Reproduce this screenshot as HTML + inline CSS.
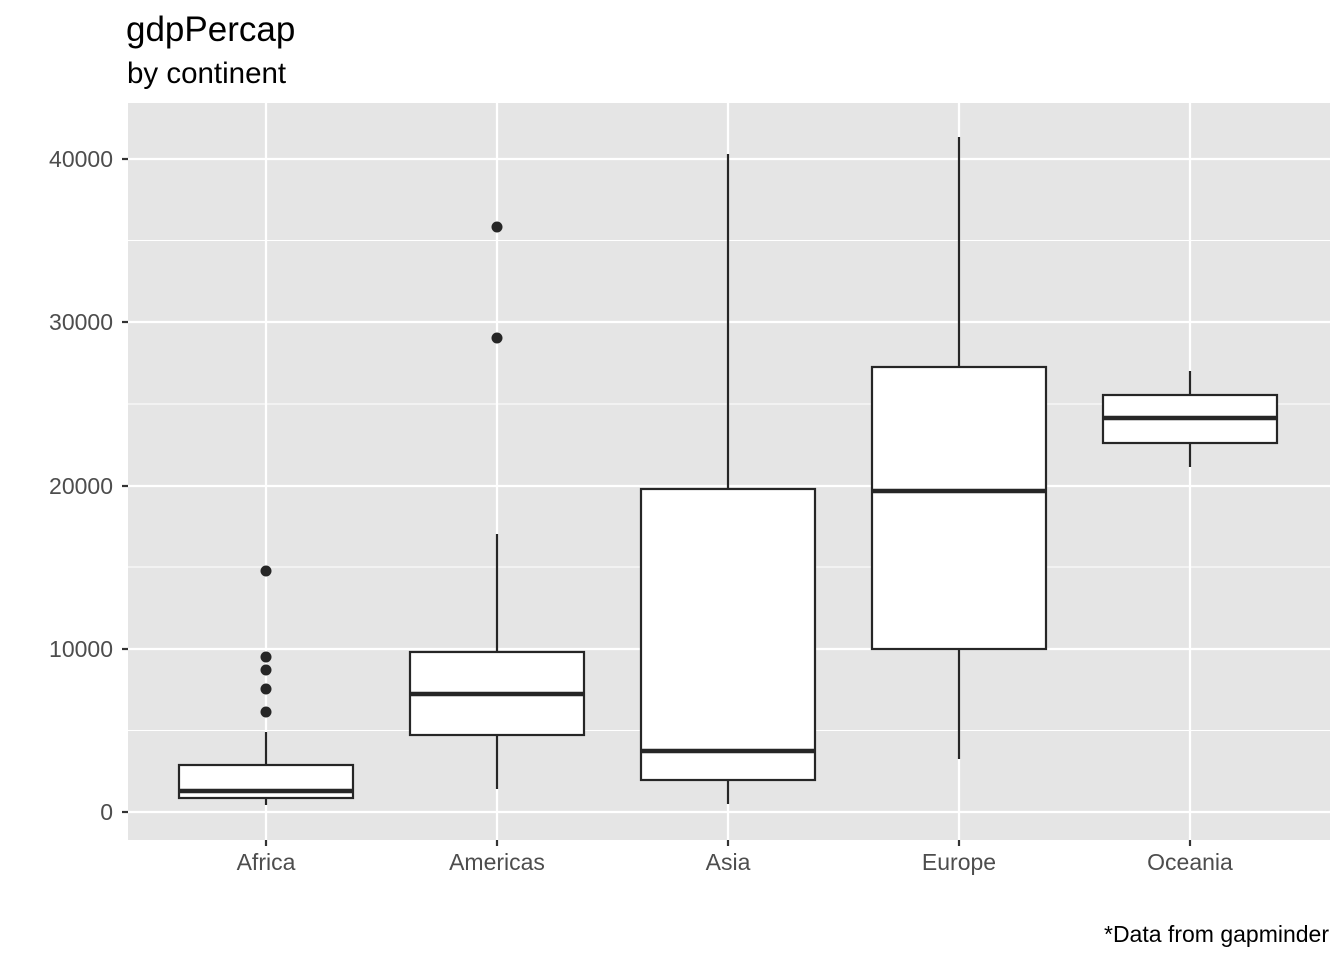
<!DOCTYPE html>
<html><head><meta charset="utf-8"><style>
html,body{margin:0;padding:0;background:#fff;}
svg{display:block;font-family:"Liberation Sans",Arial,sans-serif;}
</style></head><body>
<svg width="1344" height="960" viewBox="0 0 1344 960" xmlns="http://www.w3.org/2000/svg">
<rect x="0" y="0" width="1344" height="960" fill="#fff"/>
<text x="126" y="41" font-size="35" fill="#000">gdpPercap</text>
<text x="127" y="83" font-size="29.5" fill="#000">by continent</text>
<rect x="128" y="103" width="1202" height="737" fill="#e5e5e5"/>
<g stroke="#fff" stroke-width="1.1">
<line x1="128" x2="1330" y1="730.5" y2="730.5"/>
<line x1="128" x2="1330" y1="567" y2="567"/>
<line x1="128" x2="1330" y1="404" y2="404"/>
<line x1="128" x2="1330" y1="240.5" y2="240.5"/>
</g>
<g stroke="#fff" stroke-width="2.2">
<line x1="128" x2="1330" y1="812" y2="812"/>
<line x1="128" x2="1330" y1="649" y2="649"/>
<line x1="128" x2="1330" y1="486" y2="486"/>
<line x1="128" x2="1330" y1="322" y2="322"/>
<line x1="128" x2="1330" y1="159" y2="159"/>
<line x1="266" x2="266" y1="103" y2="840"/>
<line x1="497" x2="497" y1="103" y2="840"/>
<line x1="728" x2="728" y1="103" y2="840"/>
<line x1="959" x2="959" y1="103" y2="840"/>
<line x1="1190" x2="1190" y1="103" y2="840"/>
</g>
<g stroke="#262626" stroke-width="2.2" fill="#fff">
<line x1="266" x2="266" y1="732" y2="765"/><line x1="266" x2="266" y1="798" y2="805"/>
<rect x="179" y="765" width="174" height="33"/>
<line x1="179" x2="353" y1="791" y2="791" stroke-width="4.4"/>
<line x1="497" x2="497" y1="534" y2="652"/><line x1="497" x2="497" y1="735" y2="789"/>
<rect x="410" y="652" width="174" height="83"/>
<line x1="410" x2="584" y1="694" y2="694" stroke-width="4.4"/>
<line x1="728" x2="728" y1="154" y2="489"/><line x1="728" x2="728" y1="780" y2="804"/>
<rect x="641" y="489" width="174" height="291"/>
<line x1="641" x2="815" y1="751" y2="751" stroke-width="4.4"/>
<line x1="959" x2="959" y1="137" y2="367"/><line x1="959" x2="959" y1="649" y2="759"/>
<rect x="872" y="367" width="174" height="282"/>
<line x1="872" x2="1046" y1="491" y2="491" stroke-width="4.4"/>
<line x1="1190" x2="1190" y1="371" y2="395"/><line x1="1190" x2="1190" y1="443" y2="467"/>
<rect x="1103" y="395" width="174" height="48"/>
<line x1="1103" x2="1277" y1="418" y2="418" stroke-width="4.4"/>
</g>
<g fill="#262626">
<circle cx="266" cy="571" r="5.5"/><circle cx="266" cy="657" r="5.5"/><circle cx="266" cy="670" r="5.5"/>
<circle cx="266" cy="689" r="5.5"/><circle cx="266" cy="712" r="5.5"/>
<circle cx="497" cy="227" r="5.5"/><circle cx="497" cy="338" r="5.5"/>
</g>
<g stroke="#333" stroke-width="2.2">
<line x1="122" x2="128" y1="812" y2="812"/><line x1="122" x2="128" y1="649" y2="649"/>
<line x1="122" x2="128" y1="486" y2="486"/><line x1="122" x2="128" y1="322" y2="322"/>
<line x1="122" x2="128" y1="159" y2="159"/>
<line x1="266" x2="266" y1="840" y2="846"/><line x1="497" x2="497" y1="840" y2="846"/>
<line x1="728" x2="728" y1="840" y2="846"/><line x1="959" x2="959" y1="840" y2="846"/>
<line x1="1190" x2="1190" y1="840" y2="846"/>
</g>
<g font-size="23" fill="#4d4d4d" text-anchor="end">
<text x="113" y="820">0</text><text x="113" y="657">10000</text><text x="113" y="494">20000</text>
<text x="113" y="330">30000</text><text x="113" y="167">40000</text>
</g>
<g font-size="23" fill="#4d4d4d" text-anchor="middle">
<text x="266" y="870">Africa</text><text x="497" y="870">Americas</text><text x="728" y="870">Asia</text>
<text x="959" y="870">Europe</text><text x="1190" y="870">Oceania</text>
</g>
<text x="1329" y="942" font-size="23" fill="#000" text-anchor="end">*Data from gapminder</text>
</svg>
</body></html>
